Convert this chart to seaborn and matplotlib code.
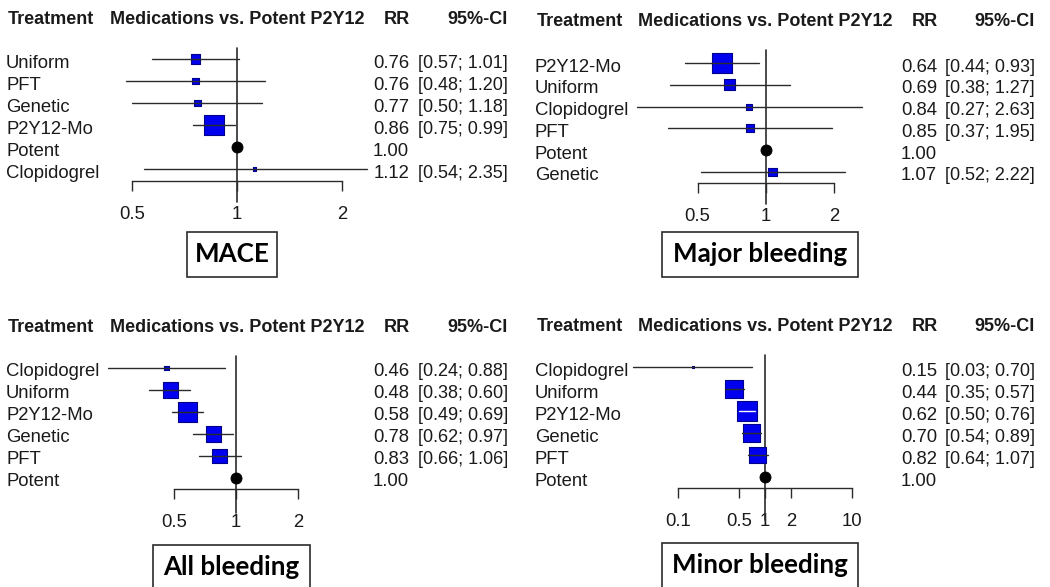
import numpy as np
import pandas as pd
import matplotlib
matplotlib.use("Agg")
import matplotlib.pyplot as plt
import matplotlib.patches as patches
from matplotlib.ticker import FixedLocator, FixedFormatter, NullLocator
import seaborn as sns

# ------------------------------------------
# data
# weight = box size relative to the biggest box (nan = reference)
# ------------------------------------------

headers = ["Treatment", "Medications vs. Potent P2Y12", "RR", "95%-CI"]

mace_treat = ["Uniform", "PFT", "Genetic", "P2Y12-Mo", "Potent", "Clopidogrel"]
mace_rr = [0.76, 0.76, 0.77, 0.86, 1.00, 1.12]
mace_lo = [0.57, 0.48, 0.50, 0.75, np.nan, 0.54]
mace_hi = [1.01, 1.20, 1.18, 0.99, np.nan, 2.35]
mace_weight = [0.47, 0.32, 0.32, 1.0, np.nan, 0.16]

major_treat = ["P2Y12-Mo", "Uniform", "Clopidogrel", "PFT", "Potent", "Genetic"]
major_rr = [0.64, 0.69, 0.84, 0.85, 1.00, 1.07]
major_lo = [0.44, 0.38, 0.27, 0.37, np.nan, 0.52]
major_hi = [0.93, 1.27, 2.63, 1.95, np.nan, 2.22]
major_weight = [1.0, 0.55, 0.3, 0.4, np.nan, 0.45]

all_treat = ["Clopidogrel", "Uniform", "P2Y12-Mo", "Genetic", "PFT", "Potent"]
all_rr = [0.46, 0.48, 0.58, 0.78, 0.83, 1.00]
all_lo = [0.24, 0.38, 0.49, 0.62, 0.66, np.nan]
all_hi = [0.88, 0.60, 0.69, 0.97, 1.06, np.nan]
all_weight = [0.21, 0.79, 1.0, 0.79, 0.74, np.nan]

minor_treat = ["Clopidogrel", "Uniform", "P2Y12-Mo", "Genetic", "PFT", "Potent"]
minor_rr = [0.15, 0.44, 0.62, 0.70, 0.82, 1.00]
minor_lo = [0.03, 0.35, 0.50, 0.54, 0.64, np.nan]
minor_hi = [0.70, 0.57, 0.76, 0.89, 1.07, np.nan]
minor_weight = [0.11, 0.89, 1.0, 0.89, 0.83, np.nan]

ticks_main = [0.5, 1, 2]
ticks_minor = [0.1, 0.5, 1, 2, 10]

# ------------------------------------------
# figure setup
# ------------------------------------------

sns.set_style("white")
plt.rcParams['font.family'] = ['Liberation Sans', 'DejaVu Sans']

W, H = 1050, 587
PT = 72 / 100  # points per pixel
fig = plt.figure(figsize=(W / 100, H / 100), dpi=100)

BLUE = "#0000EE"
NAVY = "#00008B"
LINE = "#2b2b2b"
TXT = "#1a1a1a"


def fx(x):
    return x / W


def fy(y):
    return 1 - y / H


def forest(treat, rr, lo, hi, weight, ticks, title, lay):
    x1, dec, row0, dy, axis_y = lay["x1"], lay["dec"], lay["row0"], lay["dy"], lay["axis_y"]
    xmin, xmax = ticks[0], ticks[-1]
    left = x1 + dec * np.log10(xmin)
    right = x1 + dec * np.log10(xmax)
    top = row0 - dy
    ax = fig.add_axes([fx(left), fy(axis_y), (right - left) / W, (axis_y - top) / H])
    ax.patch.set_alpha(0)

    df = pd.DataFrame({"treat": treat, "rr": rr, "lo": lo, "hi": hi, "weight": weight})
    df["row"] = np.arange(len(df))
    df["side"] = 19.5 * df["weight"]
    df["area"] = (df["side"] * PT) ** 2
    sq = df[df["weight"].notna()]
    ref = df[df["weight"].isna()]

    sns.scatterplot(data=sq, x="rr", y="row", size="area", sizes=(0, 1000), size_norm=(0, 1000),
                    marker="s", color=BLUE, edgecolor=NAVY, linewidth=0.8, legend=False,
                    ax=ax, zorder=3, clip_on=False)
    sns.scatterplot(data=ref, x="rr", y="row", marker="o", s=(11 * PT) ** 2, color="black",
                    edgecolor="black", legend=False, ax=ax, zorder=4, clip_on=False)

    # confidence intervals (white when the line sits inside the box)
    for _, r in sq.iterrows():
        span = dec * np.log10(r["hi"] / r["lo"])
        col = "white" if span < r["side"] else LINE
        ax.plot([r["lo"], r["hi"]], [r["row"], r["row"]], color=col, lw=1.0, zorder=4, clip_on=False)

    # line of no effect
    ax.plot([1, 1], [(lay["ref"][0] - row0) / dy, (lay["ref"][1] - row0) / dy],
            color=LINE, lw=1.2, zorder=2, clip_on=False)

    ax.set_xscale("log")
    ax.set_xlim(xmin, xmax)
    ax.set_ylim((axis_y - row0) / dy, -1)
    ax.xaxis.set_major_locator(FixedLocator(ticks))
    ax.xaxis.set_major_formatter(FixedFormatter([f"{t:g}" for t in ticks]))
    ax.xaxis.set_minor_locator(NullLocator())
    ax.set_yticks([])
    for s in ["top", "left", "right"]:
        ax.spines[s].set_visible(False)
    ax.spines["bottom"].set_color(LINE)
    ax.spines["bottom"].set_linewidth(1.0)
    ax.tick_params(axis="x", bottom=True, direction="out", length=7, width=1.0, color=LINE,
                   labelsize=13.3, labelcolor=TXT, pad=11)
    ax.set_xlabel("")
    ax.set_ylabel("")

    # header row
    hy = lay["head_y"] + 6.5
    fig.text(fx(lay["treat_x"]), fy(hy), headers[0], fontsize=13, fontweight="bold", color=TXT, va="baseline")
    fig.text(fx(lay["med_x"]), fy(hy), headers[1], fontsize=13, fontweight="bold", color=TXT, va="baseline")
    fig.text(fx(lay["rr_x"]), fy(hy), headers[2], fontsize=13, fontweight="bold", color=TXT, va="baseline", ha="right")
    fig.text(fx(lay["ci_x"]), fy(hy), headers[3], fontsize=13, fontweight="bold", color=TXT, va="baseline", ha="right")

    # row labels and numbers
    for _, r in df.iterrows():
        by = row0 + r["row"] * dy + 8.5
        fig.text(fx(lay["label_x"]), fy(by), r["treat"], fontsize=13.3, color=TXT, va="baseline")
        fig.text(fx(lay["rr_x"] - 1), fy(by), f"{r['rr']:.2f}", fontsize=13.3, color=TXT, va="baseline", ha="right")
        if not np.isnan(r["lo"]):
            fig.text(fx(lay["ci_x"]), fy(by), f"[{r['lo']:.2f}; {r['hi']:.2f}]", fontsize=13,
                     color=TXT, va="baseline", ha="right")

    # outcome box
    bx, by0, bw, bh = lay["box"]
    fig.patches.append(patches.Rectangle((fx(bx), fy(by0 + bh)), bw / W, bh / H, transform=fig.transFigure,
                                         fill=False, edgecolor=LINE, linewidth=1.2))
    fig.text(fx(bx + bw / 2), fy(by0 + 22), title, fontsize=18.7, fontweight="bold", family="Lato",
             color="black", ha="center", va="center")
    return ax


left_cols = dict(label_x=6, treat_x=8, med_x=110, rr_x=410, ci_x=508)
right_cols = dict(label_x=535, treat_x=537, med_x=638, rr_x=938, ci_x=1035)

forest(mace_treat, mace_rr, mace_lo, mace_hi, mace_weight, ticks_main, "MACE",
       dict(x1=237, dec=349, row0=59, dy=22, axis_y=181, ref=(48, 202), head_y=17,
            box=(187, 232, 90, 45), **left_cols))
forest(major_treat, major_rr, major_lo, major_hi, major_weight, ticks_main, "Major bleeding",
       dict(x1=766, dec=227.5, row0=63, dy=21.8, axis_y=183, ref=(50, 204), head_y=19,
            box=(662, 232, 196, 45), **right_cols))
forest(all_treat, all_rr, all_lo, all_hi, all_weight, ticks_main, "All bleeding",
       dict(x1=236, dec=206, row0=368, dy=22, axis_y=489, ref=(356, 513), head_y=325,
            box=(153, 545, 157, 50), **left_cols))
forest(minor_treat, minor_rr, minor_lo, minor_hi, minor_weight, ticks_minor, "Minor bleeding",
       dict(x1=765, dec=87, row0=367, dy=22, axis_y=488, ref=(355, 520), head_y=324,
            box=(662, 543, 196, 50), **right_cols))

plt.savefig("out.png", dpi=100)
